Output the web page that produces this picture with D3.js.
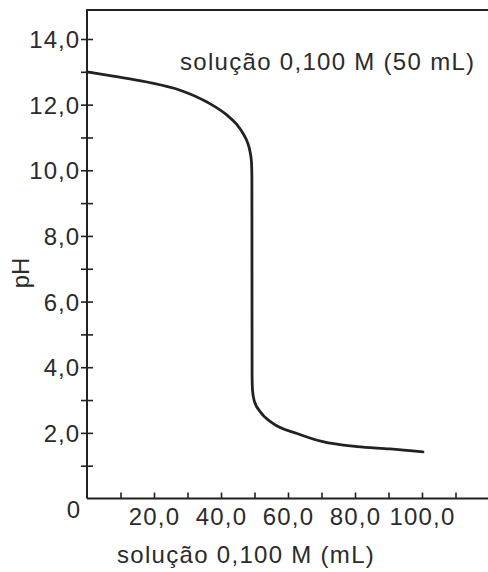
<!DOCTYPE html>
<html>
<head>
<meta charset="utf-8">
<script src="https://cdn.jsdelivr.net/npm/d3@7"></script>
<style>
  body { margin: 0; background: #fff; }
  text { font-family: "Liberation Sans", Arial, sans-serif; fill: #2b2b2b; }
</style>
</head>
<body>
<div id="chart"></div>
<script>
// data (volume added in mL, pH)
var volume = [0, 7.8, 17.9, 27.8, 35.8, 41.8, 44.5, 46.6, 47.9, 48.7, 49.1, 49.22, 49.25, 49.28, 49.4, 50.0, 51.6, 55.5, 62.7, 70.4, 80.6, 90.4, 100.3]
var ph     = [13.0, 12.87, 12.69, 12.44, 12.08, 11.68, 11.42, 11.12, 10.85, 10.55, 10.25, 9.8, 6.5, 3.7, 3.3, 2.95, 2.66, 2.29, 1.98, 1.73, 1.58, 1.51, 1.42]

var xTicks = [10, 20, 30, 40, 50, 60, 70, 80, 90, 100, 110]
var xLabels = [20, 40, 60, 80, 100]
var yTicks = [1, 2, 3, 4, 5, 6, 7, 8, 9, 10, 11, 12, 13, 14]
var yLabels = [2, 4, 6, 8, 10, 12, 14]

var titleText = 'solução 0,100 M (50 mL)'
var xTitle = 'solução 0,100 M (mL)'
var yTitle = 'pH'

var width = 488, height = 572

var svg = d3.select('#chart').append('svg')
  .attr('width', width)
  .attr('height', height)

var xScale = d3.scaleLinear().domain([0, 120]).range([87, 489])
var yScale = d3.scaleLinear().domain([0, 14]).range([498.5, 39])

var pt = d3.formatLocale({ decimal: ',', thousands: '.', grouping: [3], currency: ['', ''] }).format('.1f')

var ink = '#222'

// x axis
var xAxis = d3.axisBottom(xScale)
  .tickValues(xTicks)
  .tickSize(-6)
  .tickFormat(function (d) { return xLabels.indexOf(d) >= 0 ? pt(d) : '' })

var gx = svg.append('g')
  .attr('transform', 'translate(0,' + yScale(0) + ')')
  .call(xAxis)
gx.select('.domain').attr('d', 'M87,0H488').attr('stroke', ink).attr('stroke-width', 2)
gx.selectAll('.tick line').attr('stroke', ink).attr('stroke-width', 1.6)
gx.selectAll('.tick text')
  .attr('y', 26).attr('dy', 0)
  .style('font-size', '24px').style('letter-spacing', '1.2px')
  .attr('fill', '#2b2b2b')

// y axis, ticks cross the line
var yAxis = d3.axisLeft(yScale)
  .tickValues(yTicks)
  .tickSize(6)
  .tickFormat(function (d) { return yLabels.indexOf(d) >= 0 ? pt(d) : '' })

var gy = svg.append('g')
  .attr('transform', 'translate(87,0)')
  .call(yAxis)
gy.select('.domain').attr('d', 'M0,' + yScale(0) + 'V10').attr('stroke', ink).attr('stroke-width', 2)
gy.selectAll('.tick line').attr('x1', -6).attr('x2', 6).attr('stroke', ink).attr('stroke-width', 1.6)
gy.selectAll('.tick text')
  .attr('x', -7).attr('dy', '0.36em')
  .style('font-size', '24px').style('letter-spacing', '1px')
  .attr('fill', '#2b2b2b')

// top border line
svg.append('line')
  .attr('x1', 86).attr('x2', 488)
  .attr('y1', 10).attr('y2', 10)
  .attr('stroke', ink).attr('stroke-width', 2)

// origin label
svg.append('text')
  .attr('x', 80).attr('y', 518)
  .attr('text-anchor', 'end')
  .style('font-size', '24px')
  .text('0')

// titration curve
var pts = volume.map(function (v, i) { return [v, ph[i]] })
var line = d3.line()
  .x(function (d) { return xScale(d[0]) })
  .y(function (d) { return yScale(d[1]) })
  .curve(d3.curveMonotoneX)

svg.append('path')
  .datum(pts)
  .attr('d', line)
  .attr('fill', 'none')
  .attr('stroke', ink)
  .attr('stroke-width', 2.8)
  .attr('stroke-linecap', 'round')

// labels
svg.append('text')
  .attr('x', 180).attr('y', 70)
  .style('font-size', '24px').style('letter-spacing', '1.3px')
  .text(titleText)

svg.append('text')
  .attr('x', 117).attr('y', 563)
  .style('font-size', '24px').style('letter-spacing', '1.3px')
  .text(xTitle)

svg.append('text')
  .attr('transform', 'translate(29,273) rotate(-90)')
  .attr('text-anchor', 'middle')
  .style('font-size', '24px')
  .text(yTitle)
</script>
</body>
</html>
